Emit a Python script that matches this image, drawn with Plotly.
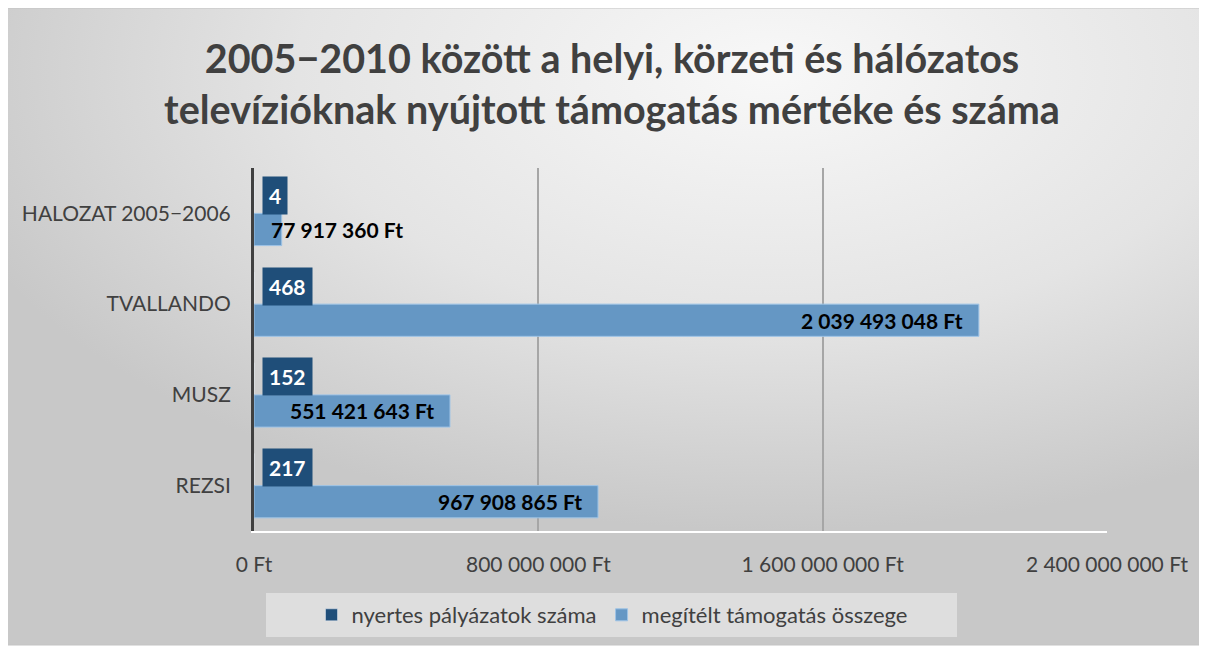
import base64
import plotly.graph_objects as go

# ---- data ----
categories = ["HALOZAT 2005−2006", "TVALLANDO", "MUSZ", "REZSI"]
counts = [4, 468, 152, 217]
amounts = [77917360, 2039493048, 551421643, 967908865]
tick_values = [0, 800000000, 1600000000, 2400000000]
series_names = ["nyertes pályázatok száma", "megítélt támogatás összege"]


def fmt(v):
    return f"{v:,}".replace(",", " ") + " Ft"


tick_text = [fmt(v) for v in tick_values]

OFF = 8  # page body margin
W, H = 1207 - OFF, 649 - OFF
# plot area in screenshot pixels
PL, PR, PT, PB = 254, 1107, 168, 531
L, R, T, B = PL - OFF, W - (PR - OFF), PT - OFF, H - (PB - OFF)
pw, ph = W - L - R, H - T - B


def px_x(x):
    return (x - OFF - L) / pw


def px_y(y):
    return (H - B - (y - OFF)) / ph


FONT = "Lato"
DARK = "#1F4E79"
LIGHT = "#6597C4"
TXT = "#404040"

svg = (
    "<svg xmlns='http://www.w3.org/2000/svg' width='1193' height='637' viewBox='0 0 1193 637' preserveAspectRatio='none'>"
    "<defs><radialGradient id='g' cx='0.64' cy='0.1' r='0.72'>"
    "<stop offset='0' stop-color='#f8f8f8'/><stop offset='0.55' stop-color='#e4e4e4'/>"
    "<stop offset='1' stop-color='#c8c8c8'/></radialGradient></defs>"
    "<rect width='1193' height='637' fill='url(#g)'/></svg>"
)
src = "data:image/svg+xml;base64," + base64.b64encode(svg.encode()).decode()

fig = go.Figure()
fig.add_trace(go.Bar(
    y=categories, x=counts, orientation="h", name=series_names[0],
    marker=dict(color=DARK), hoverinfo="x+y",
))
fig.add_trace(go.Bar(
    y=categories, x=amounts, orientation="h", name=series_names[1],
    marker=dict(color=LIGHT, line=dict(color="#9DC3E6", width=1)),
))

annotations = []
for c, n in zip(categories, counts):
    annotations.append(dict(
        x=0, y=c, xref="x", yref="y", text=f"<b>{n}</b>", showarrow=False,
        xanchor="left", yanchor="middle", xshift=8, yshift=18,
        bgcolor=DARK, borderpad=6, font=dict(family=FONT, size=21, color="white"),
    ))
for c, a in zip(categories, amounts):
    inside = a > 300000000
    annotations.append(dict(
        x=a if inside else 0, y=c, xref="x", yref="y", text=f"<b>{fmt(a)}</b>",
        showarrow=False, xanchor="right" if inside else "left", yanchor="middle",
        xshift=-14 if inside else 15, yshift=-16,
        font=dict(family=FONT, size=21, color="black"),
    ))

fig.update_layout(
    width=W, height=H,
    margin=dict(l=L, r=R, t=T, b=B),
    paper_bgcolor="white", plot_bgcolor="rgba(0,0,0,0)",
    font=dict(family=FONT, color=TXT),
    title=dict(
        text="<b>2005−2010 között a helyi, körzeti és hálózatos<br>televízióknak nyújtott támogatás mértéke és száma</b>",
        x=(612 - OFF) / W, xanchor="center", y=1 - (73 - OFF) / H, yanchor="middle", yref="container",
        font=dict(family=FONT, size=39.5, color=TXT),
    ),
    barmode="group", bargap=0.29, bargroupgap=0,
    xaxis=dict(
        range=[0, 2400000000], tickvals=tick_values, ticktext=tick_text,
        showgrid=True, gridcolor="#a6a6a6", gridwidth=1.5, zeroline=False,
        showline=True, linecolor="white", linewidth=2,
        ticks="outside", ticklen=14, tickcolor="rgba(0,0,0,0)",
        tickfont=dict(family=FONT, size=21, color=TXT),
    ),
    yaxis=dict(
        categoryorder="array", categoryarray=categories, autorange="reversed",
        showgrid=False, zeroline=False,
        showline=True, linecolor="#404040", linewidth=3,
        ticks="outside", ticklen=16, tickcolor="rgba(0,0,0,0)",
        tickfont=dict(family=FONT, size=21, color=TXT),
    ),
    legend=dict(
        orientation="h", x=px_x(612), y=px_y(615), xanchor="center", yanchor="middle",
        bgcolor="rgba(0,0,0,0)", font=dict(family=FONT, size=22, color=TXT),
        itemclick=False,
    ),
    annotations=annotations,
    images=[dict(
        source=src, xref="paper", yref="paper",
        x=px_x(7), y=px_y(8), sizex=px_x(1200) - px_x(7), sizey=px_y(8) - px_y(645),
        xanchor="left", yanchor="top", sizing="stretch", layer="below",
    )],
    shapes=[
        dict(type="rect", xref="paper", yref="paper", layer="below",
             x0=px_x(7), x1=px_x(1200), y0=px_y(645), y1=px_y(8),
             line=dict(color="#c4c4c4", width=1), fillcolor="rgba(0,0,0,0)"),
        dict(type="rect", xref="paper", yref="paper", layer="below",
             x0=px_x(266), x1=px_x(957), y0=px_y(637), y1=px_y(593),
             line=dict(width=0), fillcolor="rgba(240,240,240,0.55)"),
    ],
    showlegend=True,
)

fig.write_html("out.html")
